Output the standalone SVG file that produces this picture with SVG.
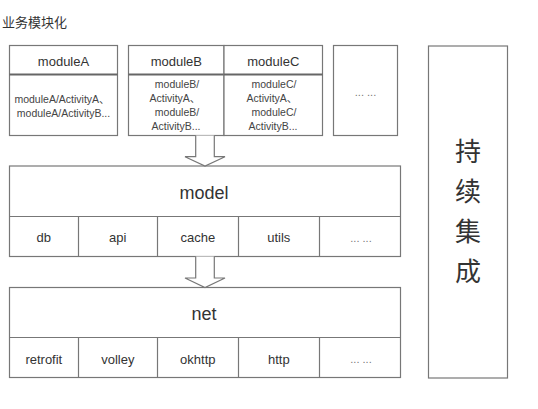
<svg xmlns="http://www.w3.org/2000/svg" width="538" height="409" viewBox="0 0 538 409">
<style>
.box{fill:#fff;stroke:#777;stroke-width:1.2}
.div{stroke:#777;stroke-width:1.2}
.hdiv{stroke:#666;stroke-width:2}
.t{font-family:"Liberation Sans","Noto Sans CJK SC",sans-serif;fill:#333;text-anchor:middle}
.h{font-size:13px}
.s{font-size:10.5px;fill:#444}
.big{font-size:18px}
.c{font-size:13px}
.dots{font-size:11px;fill:#777}
.cjk{font-family:"Noto Sans CJK SC",sans-serif;fill:#333}
.arrow{fill:#fff;stroke:#777;stroke-width:1.2;stroke-linejoin:miter}
</style>
<rect width="538" height="409" fill="#fff"/>
<text class="cjk" x="2" y="27" font-size="13">业务模块化</text>

<g id="moduleA">
<rect class="box" x="9.5" y="45.5" width="108" height="90"/>
<line class="hdiv" x1="9.5" y1="74.5" x2="117.5" y2="74.5"/>
<text class="t h" x="63.5" y="65.5">moduleA</text>
<text class="t s" x="62" y="103">moduleA/ActivityA、</text>
<text class="t s" x="63.5" y="116.5">moduleA/ActivityB...</text>
</g>

<g id="moduleB">
<rect class="box" x="128.5" y="45.5" width="95.5" height="90"/>
<line class="hdiv" x1="128.5" y1="74.5" x2="224" y2="74.5"/>
<text class="t h" x="176.3" y="65.5">moduleB</text>
<text class="t s" x="177" y="88">moduleB/</text>
<text class="t s" x="175" y="102">ActivityA、</text>
<text class="t s" x="177" y="116">moduleB/</text>
<text class="t s" x="176" y="130">ActivityB...</text>
</g>

<g id="moduleC">
<rect class="box" x="224" y="45.5" width="98.5" height="90"/>
<line class="hdiv" x1="224" y1="74.5" x2="322.5" y2="74.5"/>
<text class="t h" x="273.3" y="65.5">moduleC</text>
<text class="t s" x="274" y="88">moduleC/</text>
<text class="t s" x="272" y="102">ActivityA、</text>
<text class="t s" x="274" y="116">moduleC/</text>
<text class="t s" x="273" y="130">ActivityB...</text>
</g>

<g id="moduleMore">
<rect class="box" x="333.5" y="45.5" width="64" height="90"/>
<text class="t dots" x="365.5" y="96">... ...</text>
</g>

<g id="ci">
<rect class="box" x="428.5" y="46" width="79" height="332"/>
<text class="cjk" x="468" y="161" font-size="26" text-anchor="middle">持</text>
<text class="cjk" x="468" y="201" font-size="26" text-anchor="middle">续</text>
<text class="cjk" x="468" y="241" font-size="26" text-anchor="middle">集</text>
<text class="cjk" x="468" y="281" font-size="26" text-anchor="middle">成</text>
</g>

<g id="model">
<rect class="box" x="9.5" y="166" width="391" height="90.5"/>
<line class="div" x1="9.5" y1="216.5" x2="400.5" y2="216.5"/>
<line class="div" x1="78.5" y1="216.5" x2="78.5" y2="256.5"/>
<line class="div" x1="157.5" y1="216.5" x2="157.5" y2="256.5"/>
<line class="div" x1="238.5" y1="216.5" x2="238.5" y2="256.5"/>
<line class="div" x1="319.5" y1="216.5" x2="319.5" y2="256.5"/>
<text class="t big" x="204" y="198.5">model</text>
<text class="t c" x="43.8" y="242">db</text>
<text class="t c" x="117.8" y="242">api</text>
<text class="t c" x="197.8" y="242">cache</text>
<text class="t c" x="278.8" y="242">utils</text>
<text class="t dots" x="361" y="242">... ...</text>
</g>

<g id="net">
<rect class="box" x="9.5" y="287.5" width="391" height="90"/>
<line class="div" x1="9.5" y1="337.5" x2="400.5" y2="337.5"/>
<line class="div" x1="78.5" y1="337.5" x2="78.5" y2="377.5"/>
<line class="div" x1="157.5" y1="337.5" x2="157.5" y2="377.5"/>
<line class="div" x1="238.5" y1="337.5" x2="238.5" y2="377.5"/>
<line class="div" x1="319.5" y1="337.5" x2="319.5" y2="377.5"/>
<text class="t big" x="204" y="319.5">net</text>
<text class="t c" x="43.8" y="363.5">retrofit</text>
<text class="t c" x="117.8" y="363.5">volley</text>
<text class="t c" x="197.8" y="363.5">okhttp</text>
<text class="t c" x="278.8" y="363.5">http</text>
<text class="t dots" x="361" y="363">... ...</text>
</g>

<g id="connectors">
<path class="arrow" d="M195.7 135.5 V156.7 H185 L205 166 L225 156.7 H214.3 V135.5"/>
<path class="arrow" d="M195.7 256.5 V278 H185 L205 287.5 L225 278 H214.3 V256.5"/>
</g>
</svg>
